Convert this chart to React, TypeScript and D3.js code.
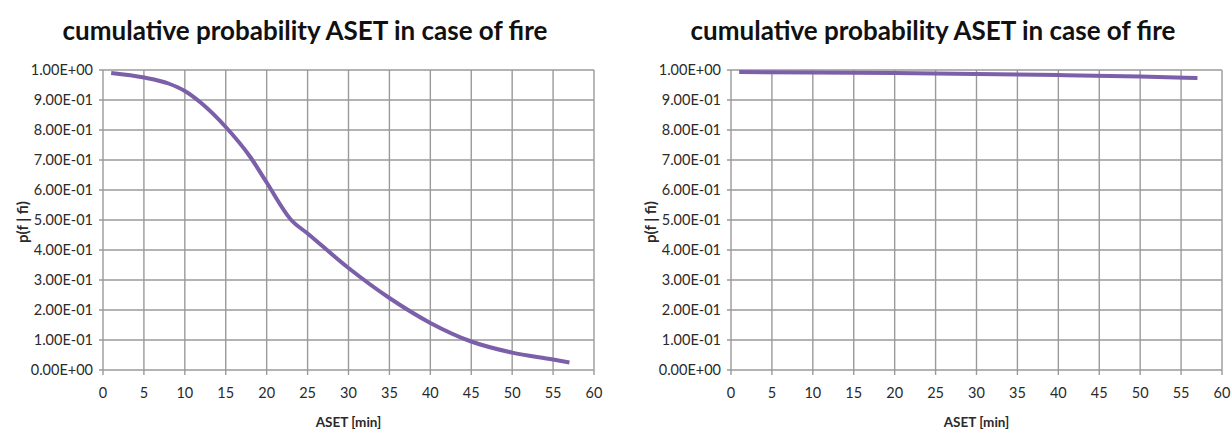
import React from "react";
import * as d3 from "d3";

// ASET [min] vs cumulative probability, two scenarios
const asetLeft = [1, 5, 8, 10, 12, 15, 18, 20, 23, 25, 30, 35, 40, 45, 50, 55, 57];
const probLeft = [0.99, 0.975, 0.955, 0.93, 0.89, 0.81, 0.71, 0.625, 0.5, 0.455, 0.34, 0.24, 0.157, 0.095, 0.058, 0.035, 0.025];

const asetRight = [1, 10, 20, 30, 40, 50, 57];
const probRight = [0.993, 0.992, 0.99, 0.987, 0.983, 0.978, 0.973];

const xTicks = [0, 5, 10, 15, 20, 25, 30, 35, 40, 45, 50, 55, 60];
const yTicks = [0, 0.1, 0.2, 0.3, 0.4, 0.5, 0.6, 0.7, 0.8, 0.9, 1.0];

const titleText = "cumulative probability ASET in case of fire";
const xLabel = "ASET [min]";
const yLabel = "p(f | fi)";

const FONT = "Lato, 'Open Sans', sans-serif";
const GRID = "#9a9a9a";
const LINE = "#7b5fa9";
const TEXT = "#2a2a2a";

function fmtTick(v: number): string {
  if (v === 0) return "0.00E+00";
  const s = v.toExponential(2).toUpperCase();
  const m = s.match(/^(.*)E([+-])(\d+)$/);
  if (!m) return s;
  return `${m[1]}E${m[2]}${m[3].padStart(2, "0")}`;
}

type PanelProps = { offsetX: number; xs: number[]; ys: number[] };

function Panel({ offsetX, xs, ys }: PanelProps) {
  const left = offsetX + 103;
  const right = offsetX + 594;
  const top = 70;
  const bottom = 370;
  const x = d3.scaleLinear().domain([0, 60]).range([left, right]);
  const y = d3.scaleLinear().domain([0, 1]).range([bottom, top]);
  const pts: [number, number][] = xs.map((v, i) => [v, ys[i]]);
  const line = d3
    .line<[number, number]>()
    .x((d) => x(d[0]))
    .y((d) => y(d[1]))
    .curve(d3.curveMonotoneX);
  const cx = (left + right) / 2;
  return (
    <g>
      <text x={offsetX + 305} y={40} textAnchor="middle" fontFamily={FONT} fontWeight={700} fontSize={26} fill="#111">
        {titleText}
      </text>
      {yTicks.map((t) => (
        <line key={"h" + t} x1={left - 4} x2={right} y1={y(t)} y2={y(t)} stroke={GRID} strokeWidth={1.4} />
      ))}
      {xTicks.map((t) => (
        <line key={"v" + t} x1={x(t)} x2={x(t)} y1={top} y2={bottom + 5} stroke={GRID} strokeWidth={1.4} />
      ))}
      {yTicks.map((t) => (
        <text key={"yl" + t} x={left - 10} y={y(t)} dy="0.35em" textAnchor="end" fontFamily={FONT} fontSize={14.5} fill={TEXT}>
          {fmtTick(t)}
        </text>
      ))}
      {xTicks.map((t) => (
        <text key={"xl" + t} x={x(t)} y={398} textAnchor="middle" fontFamily={FONT} fontSize={14.5} fill={TEXT}>
          {t}
        </text>
      ))}
      <text x={cx} y={427} textAnchor="middle" fontFamily={FONT} fontWeight={700} fontSize={13.5} fill={TEXT}>
        {xLabel}
      </text>
      <text
        transform={`translate(${offsetX + 28},${y(0.5) + 2}) rotate(-90)`}
        textAnchor="middle"
        fontFamily={FONT}
        fontWeight={700}
        fontSize={15}
        fill={TEXT}
      >
        {yLabel}
      </text>
      <path d={line(pts) ?? ""} fill="none" stroke={LINE} strokeWidth={4} strokeLinecap="butt" strokeLinejoin="round" />
    </g>
  );
}

export default function App() {
  return (
    <svg
      width={1232}
      height={433}
      style={{ position: "absolute", left: 0, top: 0, background: "#fff" }}
    >
      <rect width={1232} height={433} fill="#fff" />
      <Panel offsetX={0} xs={asetLeft} ys={probLeft} />
      <Panel offsetX={628} xs={asetRight} ys={probRight} />
    </svg>
  );
}
